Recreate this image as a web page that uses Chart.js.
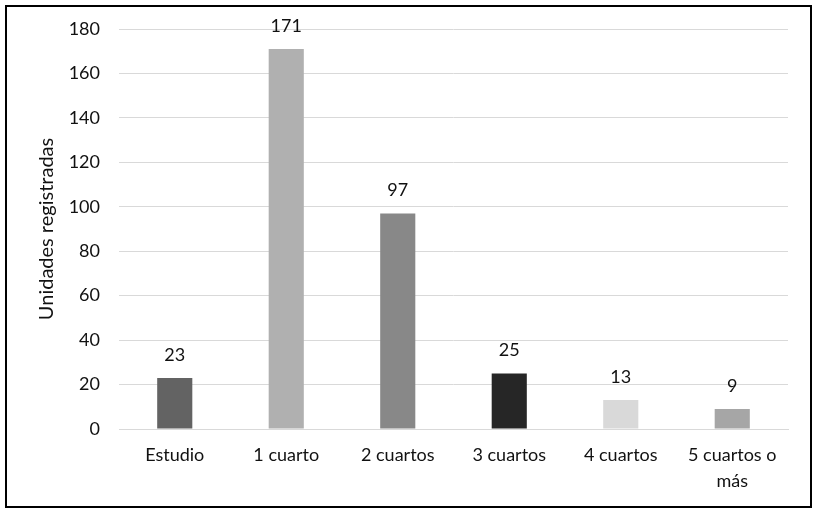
<!DOCTYPE html>
<html><head><meta charset="utf-8">
<script src="https://cdn.jsdelivr.net/npm/chart.js@4"></script>
<style>
html,body{margin:0;padding:0;background:#fff;}
#box{position:absolute;left:5px;top:5px;width:803px;height:499px;border:2px solid #000;background:#fff;}
canvas{display:block;}
</style></head>
<body>
<div id="box"><canvas id="c" width="803" height="499"></canvas></div>
<script>
const categories = ["Estudio", "1 cuarto", "2 cuartos", "3 cuartos", "4 cuartos", ["5 cuartos o", "más"]];
const values = [23, 171, 97, 25, 13, 9];
const barColors = ["#636363", "#b0b0b0", "#888888", "#262626", "#d9d9d9", "#a6a6a6"];
const yTitle = "Unidades registradas";

const FONT = "Lato, 'Open Sans', sans-serif";
const TXT = "#111111";

const labelPlugin = {
  id: 'valueLabels',
  afterDatasetsDraw(chart) {
    const ctx = chart.ctx;
    const meta = chart.getDatasetMeta(0);
    ctx.save();
    ctx.font = "18px " + FONT;
    ctx.fillStyle = TXT;
    ctx.textAlign = "center";
    ctx.textBaseline = "middle";
    meta.data.forEach((el, i) => {
      ctx.fillText(String(values[i]), el.x, el.y - 23);
    });
    ctx.restore();
  }
};

new Chart(document.getElementById('c'), {
  type: 'bar',
  data: {
    labels: categories,
    datasets: [{
      data: values,
      backgroundColor: barColors,
      borderWidth: 0,
      categoryPercentage: 1,
      barPercentage: 0.315
    }]
  },
  options: {
    responsive: false,
    animation: false,
    layout: { padding: { left: 28, right: 22, top: 22, bottom: 0 } },
    plugins: { legend: { display: false }, tooltip: { enabled: false } },
    scales: {
      x: {
        grid: { display: false, drawTicks: false },
        border: { display: true, color: "#d9d9d9", width: 1 },
        ticks: { color: TXT, font: { family: FONT, size: 18, lineHeight: 1.4 }, padding: 14, maxRotation: 0, autoSkip: false },
        afterFit(scale) { scale.height = 77; }
      },
      y: {
        min: 0, max: 180,
        ticks: { stepSize: 20, color: TXT, font: { family: FONT, size: 18 }, padding: 19 },
        grid: { color: "#d9d9d9", lineWidth: 1, drawTicks: false },
        border: { display: false },
        title: { display: true, text: yTitle, color: TXT, font: { family: FONT, size: 20 }, padding: 0 },
        afterFit(scale) { scale.width = 84; scale.paddingTop = 10; scale.paddingBottom = 10; }
      }
    }
  },
  plugins: [labelPlugin]
});
</script>
</body></html>
